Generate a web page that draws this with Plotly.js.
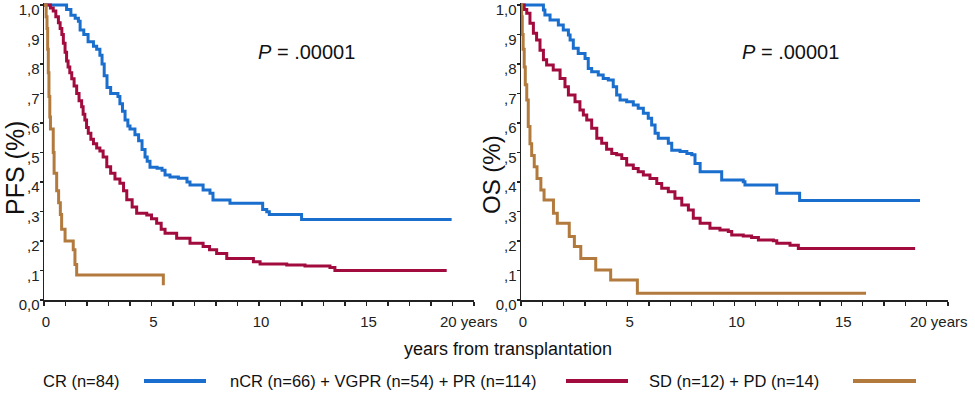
<!DOCTYPE html>
<html>
<head>
<meta charset="utf-8">
<script src="https://cdn.plot.ly/plotly-3.0.1.min.js"></script>
<style>html,body{margin:0;padding:0;background:#fff;}#chart{width:975px;height:396px;}</style>
</head>
<body>
<div id="chart"></div>
<script>
// ---------- DATA ----------
const seriesNames = ["CR (n=84)", "nCR (n=66) + VGPR (n=54) + PR (n=114)", "SD (n=12) + PD (n=14)"];
const seriesColors = ["#1a6ecd", "#a20b3e", "#b27a3c"];

// PFS panel
const pfsCR_t = [0,1.05,1.25,1.45,1.6,1.68,1.85,2.05,2.3,2.45,2.6,2.7,2.8,2.93,3.1,3.44,3.53,3.65,3.77,3.9,4.0,4.23,4.4,4.56,4.7,4.8,4.93,5.26,5.49,5.63,5.86,6.25,6.65,6.79,7.4,7.72,7.86,8.65,10.17,10.36,10.48,11.98,18.96];
const pfsCR_s = [1,0.985,0.965,0.955,0.945,0.915,0.9,0.875,0.86,0.85,0.83,0.8,0.76,0.72,0.70,0.69,0.665,0.64,0.61,0.59,0.58,0.56,0.54,0.51,0.485,0.47,0.45,0.447,0.44,0.424,0.417,0.413,0.40,0.39,0.373,0.362,0.339,0.328,0.307,0.299,0.29,0.273,0.273];

const pfsPR_t = [0,0.3,0.43,0.55,0.67,0.75,0.83,0.9,0.98,1.05,1.12,1.2,1.29,1.4,1.52,1.63,1.75,1.82,1.9,1.98,2.06,2.18,2.3,2.45,2.6,2.75,2.92,3.1,3.3,3.53,3.7,3.85,4.1,4.31,4.78,5.0,5.24,5.45,5.63,6.17,6.79,7.4,7.7,8.03,8.5,9.74,10.05,11.29,12.14,13.3,13.53,18.73];
const pfsPR_s = [1,0.99,0.98,0.96,0.94,0.92,0.9,0.87,0.84,0.81,0.79,0.77,0.75,0.725,0.70,0.675,0.655,0.63,0.61,0.585,0.565,0.545,0.53,0.515,0.505,0.485,0.452,0.43,0.41,0.396,0.37,0.34,0.315,0.294,0.288,0.275,0.26,0.24,0.226,0.209,0.192,0.181,0.17,0.158,0.141,0.13,0.122,0.119,0.115,0.11,0.10,0.10];

const pfsSD_t = [0,0.1,0.14,0.17,0.2,0.23,0.27,0.3,0.43,0.47,0.59,0.68,0.76,0.82,0.98,1.36,1.44,1.52,5.55,5.55];
const pfsSD_s = [1,0.96,0.92,0.85,0.77,0.69,0.62,0.58,0.50,0.43,0.37,0.33,0.29,0.24,0.20,0.17,0.12,0.085,0.085,0.05];

// OS panel
const osCR_t = [0,1.05,1.12,1.36,1.75,1.98,2.22,2.3,2.45,2.68,3.0,3.15,3.31,3.62,3.85,4.09,4.32,4.48,4.64,4.95,5.26,5.49,5.73,5.96,6.12,6.28,6.43,6.9,7.06,7.45,7.77,8.0,8.15,8.39,9.4,10.41,10.49,11.98,13.05,18.69];
const osCR_s = [1,0.983,0.966,0.949,0.932,0.915,0.898,0.881,0.853,0.836,0.819,0.785,0.774,0.763,0.751,0.746,0.723,0.695,0.678,0.672,0.661,0.65,0.633,0.616,0.593,0.565,0.548,0.531,0.508,0.503,0.497,0.492,0.463,0.435,0.407,0.401,0.39,0.362,0.337,0.337];

const osPR_t = [0,0.15,0.27,0.42,0.58,0.73,0.89,1.05,1.2,1.51,1.83,2.06,2.22,2.53,2.76,2.92,3.08,3.31,3.55,3.78,4.01,4.25,4.48,4.72,4.95,5.26,5.49,5.73,6.04,6.36,6.59,6.9,7.21,7.53,7.84,8.07,8.39,8.85,9.32,9.71,9.87,10.41,10.8,11.12,11.82,11.98,12.6,12.99,18.46];
const osPR_s = [1,0.985,0.972,0.938,0.904,0.881,0.847,0.814,0.797,0.78,0.751,0.723,0.695,0.672,0.644,0.627,0.61,0.582,0.548,0.531,0.511,0.497,0.492,0.48,0.458,0.446,0.435,0.424,0.412,0.395,0.379,0.367,0.345,0.322,0.305,0.277,0.26,0.243,0.237,0.232,0.22,0.217,0.212,0.203,0.201,0.192,0.186,0.175,0.175];

const osSD_t = [0,0.03,0.06,0.1,0.15,0.2,0.27,0.34,0.42,0.5,0.62,0.75,0.93,1.08,1.52,1.7,2.26,2.5,2.8,3.5,4.2,5.45,16.16];
const osSD_s = [1,0.96,0.9,0.85,0.79,0.73,0.678,0.588,0.53,0.49,0.452,0.412,0.373,0.339,0.294,0.26,0.215,0.181,0.141,0.102,0.068,0.023,0.023];

const yTickVals = [0,0.1,0.2,0.3,0.4,0.5,0.6,0.7,0.8,0.9,1.0];
const yTickText = ["0,0",",1",",2",",3",",4",",5",",6",",7",",8",",9","1,0"];
const xTickVals = [0,5,10,15,20];
const xTickText = ["0","5","10","15","20 years"];
const yTitles = ["PFS (%)", "OS (%)"];
const xTitle = "years from transplantation";
const pText = "<i>P</i> = .00001";

// ---------- LAYOUT ----------
const W = 975, H = 396, mT = 3, mB = 96;
const plotH = H - mT - mB;            // 297 px
const pxPerUnit = 295;                // 1.0 -> 295 px
const yTop = plotH / pxPerUnit;
const px2x = p => p / W;
const py2y = p => (300 - p) / plotH;
const FONT = "Liberation Sans, Arial, sans-serif";

const panels = [
  {xa: "x", ya: "y", t: [pfsCR_t, pfsPR_t, pfsSD_t], s: [pfsCR_s, pfsPR_s, pfsSD_s]},
  {xa: "x2", ya: "y2", t: [osCR_t, osPR_t, osSD_t], s: [osCR_s, osPR_s, osSD_s]}
];

const traces = [];
panels.forEach(p => {
  for (let i = 0; i < 3; i++) {
    traces.push({
      type: "scatter", mode: "lines", x: p.t[i], y: p.s[i],
      xaxis: p.xa, yaxis: p.ya, name: seriesNames[i], showlegend: false,
      line: {color: seriesColors[i], width: 3, shape: "hv"}, hoverinfo: "skip"
    });
  }
});

const nLast = xTickVals.length - 1;
// x axis: all ticks; the final "20 years" label is drawn as an annotation (shifted left as in the reference)
function xAxis(domain, anchor) {
  return {
    domain: domain, anchor: anchor, range: [0, 20], showgrid: false, zeroline: false,
    showline: true, linecolor: "#222", linewidth: 1.5,
    tickmode: "array", tickvals: xTickVals,
    ticktext: xTickText.map((t, i) => i === nLast ? "" : t),
    ticks: "outside", ticklen: 4, tickcolor: "#222", tickwidth: 1.2,
    minor: {dtick: 1, tick0: 0, ticks: "outside", ticklen: 4, tickcolor: "#222", tickwidth: 1.2, showgrid: false},
    tickfont: {family: FONT, size: 15, color: "#222"}, automargin: false, fixedrange: true,
    ticklabeloverflow: "allow", ticklabelstandoff: 3, ticklabelshift: 2
  };
}
function yAxis(anchor) {
  return {
    domain: [0, 1], anchor: anchor, range: [0, yTop], showgrid: false, zeroline: false,
    showline: true, linecolor: "#222", linewidth: 1.5,
    tickmode: "array", tickvals: yTickVals, ticktext: yTickText,
    ticks: "outside", ticklen: 3, tickcolor: "#222", tickwidth: 1.2,
    tickfont: {family: FONT, size: 15, color: "#222"}, automargin: false, fixedrange: true,
    ticklabeloverflow: "allow", ticklabelstandoff: -3, ticklabelshift: 5
  };
}

const annotations = [];
const shapes = [];

// end-of-axis labels
[["x", -5], ["x2", -9]].forEach(a => {
  annotations.push({xref: a[0], yref: "paper", x: xTickVals[nLast], y: py2y(322), xshift: a[1],
    text: xTickText[nLast], showarrow: false, xanchor: "center", yanchor: "middle",
    font: {family: FONT, size: 15, color: "#222"}});
});
// P-value labels
[["x", "y", 12.2], ["x2", "y2", 12.6]].forEach(a => {
  annotations.push({xref: a[0], yref: a[1], x: a[2], y: 0.84, text: pText, showarrow: false,
    font: {family: FONT, size: 20, color: "#111"}, xanchor: "center", yanchor: "middle"});
});
// y titles
const yTitlePos = [[15, 168, 25], [491, 175, 24]];
yTitles.forEach((t, i) => {
  annotations.push({xref: "paper", yref: "paper", x: px2x(yTitlePos[i][0]), y: py2y(yTitlePos[i][1]),
    text: t, textangle: -90, showarrow: false, xanchor: "center", yanchor: "middle",
    font: {family: FONT, size: yTitlePos[i][2], color: "#111"}});
});
// x title
annotations.push({xref: "paper", yref: "paper", x: px2x(508), y: py2y(349), text: xTitle, showarrow: false,
  xanchor: "center", yanchor: "middle", font: {family: FONT, size: 18, color: "#111"}});

// custom legend: text then line sample
const legTextX = [41, 228, 647];
const legLineX = [[144, 206], [566, 628], [853, 916]];
const legY = 381;
seriesNames.forEach((n, i) => {
  annotations.push({xref: "paper", yref: "paper", x: px2x(legTextX[i]), y: py2y(legY), text: n, showarrow: false,
    xanchor: "left", yanchor: "middle", font: {family: FONT, size: 16.5, color: "#111"}});
  shapes.push({type: "line", xref: "paper", yref: "paper", x0: px2x(legLineX[i][0]), x1: px2x(legLineX[i][1]),
    y0: py2y(legY), y1: py2y(legY), line: {color: seriesColors[i], width: 4}});
});

const layout = {
  width: W, height: H, margin: {l: 0, r: 0, t: mT, b: mB, pad: 0},
  paper_bgcolor: "#fff", plot_bgcolor: "#fff", showlegend: false,
  xaxis: xAxis([px2x(44), px2x(474)], "y"),
  yaxis: yAxis("x"),
  xaxis2: xAxis([px2x(521), px2x(948)], "y2"),
  yaxis2: yAxis("x2"),
  annotations: annotations, shapes: shapes,
  font: {family: FONT}
};

Plotly.newPlot("chart", traces, layout, {staticPlot: true, displayModeBar: false});
</script>
</body>
</html>
